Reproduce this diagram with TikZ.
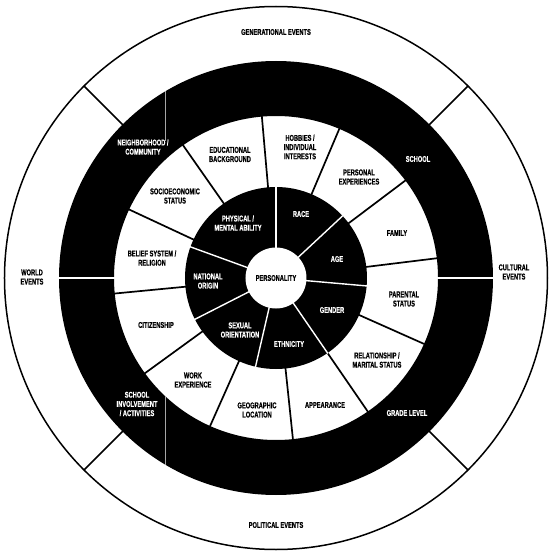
\documentclass[tikz,border=0pt]{standalone}
\usepackage{fontspec}
\newfontfamily\labfont[FakeStretch=0.68,FakeBold=0.5]{Liberation Sans}
\begin{document}
\begin{tikzpicture}[x=1pt,y=1pt,
  lab/.style={font=\labfont\bfseries\fontsize{8.4}{9.2}\selectfont, align=center, inner sep=0pt, text=black},
  wlab/.style={lab, text=white},
  blkline/.style={line width=1.7pt, draw=black},
  whtline/.style={line width=1.4pt, draw=white},
  thinline/.style={line width=0.7pt, draw=white!65!black}]
\useasboundingbox[fill=white] (-276,-277) rectangle (274,278);
% outer circle
\draw[line width=1.5pt] (0,0) circle (271.5);
% black ring
\fill[black, even odd rule] (0,0) circle (217) (0,0) circle (162);
% outer dividers
\foreach \a in {45,135,225,315} \draw[blkline] (\a:215) -- (\a:271.5);
% ring dividers
\draw[whtline] (161,0) -- (218,0);
\draw[whtline] (-161,0) -- (-218,0);
\draw[thinline] (-111,137) -- (-111,186.5);
\draw[thinline] (-110.5,-118.4) -- (-110.5,-186.7);
% white ring spokes
\foreach \a in {95,67,37,7,-24,-55.5,-84,-114,-144,185.5,155,125} \draw[blkline] (\a:90) -- (\a:162.5);
% inner disk
\fill[black] (0,0) circle (91);
\foreach \a in {90,43,-5,-55.5,-103,-153,160} \draw[whtline] (\a:29) -- (\a:91.6);
\fill[white] (0,0) circle (30.5);
% outer ring labels
\node[lab] (gen) at (0,246) {GENERATIONAL EVENTS};
\node[lab] (cul) at (238,6) {CULTURAL\\EVENTS};
\node[lab] (pol) at (0,-247) {POLITICAL EVENTS};
\node[lab] (wor) at (-244,1) {WORLD\\EVENTS};
% black ring labels
\node[wlab] (nei) at (-133,131) {NEIGHBORHOOD /\\COMMUNITY};
\node[wlab] (sch) at (142,119) {SCHOOL};
\node[wlab] (gra) at (131,-135) {GRADE LEVEL};
\node[wlab] (inv) at (-139,-126) {SCHOOL\\INVOLVEMENT\\/ ACTIVITIES};
% white ring labels
\node[lab] (edu) at (-46,123.5) {EDUCATIONAL\\BACKGROUND};
\node[lab] (hob) at (24,131) {HOBBIES /\\INDIVIDUAL\\INTERESTS};
\node[lab] (per) at (83,101) {PERSONAL\\EXPERIENCES};
\node[lab] (fam) at (121,45) {FAMILY};
\node[lab] (par) at (128,-21) {PARENTAL\\STATUS};
\node[lab] (rel) at (101,-82) {RELATIONSHIP /\\MARITAL STATUS};
\node[lab] (app) at (49,-127) {APPEARANCE};
\node[lab] (geo) at (-19,-132) {GEOGRAPHIC\\LOCATION};
\node[lab] (wrk) at (-83,-102) {WORK\\EXPERIENCE};
\node[lab] (cit) at (-120,-47) {CITIZENSHIP};
\node[lab] (bel) at (-124,20) {BELIEF SYSTEM /\\RELIGION};
\node[lab] (soc) at (-101,82) {SOCIOECONOMIC\\STATUS};
% inner labels
\node[wlab] (phy) at (-38,55) {PHYSICAL /\\MENTAL ABILITY};
\node[wlab] (rac) at (25,64) {RACE};
\node[wlab] (age) at (61,19) {AGE};
\node[wlab] (gend) at (56,-32) {GENDER};
\node[wlab] (eth) at (13,-66) {ETHNICITY};
\node[wlab] (sex) at (-36,-52) {SEXUAL\\ORIENTATION};
\node[wlab] (nat) at (-68,-3) {NATIONAL\\ORIGIN};
\node[lab] (pers) at (0,0) {PERSONALITY};
\end{tikzpicture}
\end{document}
